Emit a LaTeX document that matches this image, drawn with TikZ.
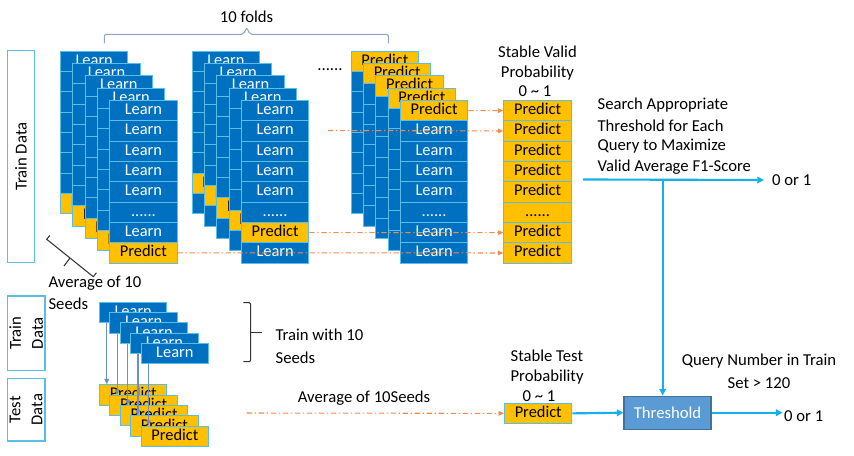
\documentclass[tikz,border=0pt]{standalone}
\usepackage{fontspec}
\setmainfont{Carlito}
\usetikzlibrary{arrows.meta}
\definecolor{cblue}{RGB}{0,112,192}
\definecolor{cyel}{RGB}{255,192,0}
\definecolor{cedge}{RGB}{91,190,230}
\definecolor{tfill}{RGB}{91,155,213}
\definecolor{tedge}{RGB}{65,113,156}
\definecolor{aqua}{RGB}{20,176,235}
\definecolor{dorange}{RGB}{240,140,80}
\definecolor{seedarr}{RGB}{110,140,210}
\definecolor{bracegray}{RGB}{140,165,200}
\newcommand\drawcard[4]{%
  \foreach \t [count=\i] in {#4} {
    \node (#1-\i) at ({#2},{#3+(\i-1)*20.33}) [\t];
  }}
\newcommand\drawstack[4]{%
  \foreach \k in {0,...,4} {
    \drawcard{#1\k}{#2+12.3*\k}{#3+12.3*\k}{#4}
  }}
\begin{document}
\begin{tikzpicture}[x=0.75pt,y=-0.75pt,
  rowbase/.style={draw=cedge, line width=0.75pt, minimum width=50.6pt, minimum height=15.25pt,
    inner sep=0pt, anchor=north west, font=\fontsize{12.3}{14}\selectfont, text height=8.6pt, text depth=2.6pt},
  lrow/.style={rowbase, fill=cblue, text=white, node contents={Learn}},
  prow/.style={rowbase, fill=cyel, text=black, node contents={Predict}},
  drow/.style={rowbase, fill=cblue, text=white, node contents={......}},
  ydrow/.style={rowbase, fill=cyel, text=black, node contents={......}},
  lab/.style={font=\fontsize{12.5}{15}\selectfont, inner sep=1pt},
  databox/.style={draw=cedge, line width=1pt, fill=white, rotate=90, align=center,
    font=\fontsize{12.5}{16.5}\selectfont, inner sep=0pt},
  aquaarrow/.style={draw=aqua, line width=1.6pt, -{Triangle[length=5pt,width=5pt]}},
  orarrow/.style={draw=dorange, line width=0.8pt, dash pattern=on 4pt off 2pt on 1pt off 2pt,
    -{Triangle[length=4pt,width=3.5pt]}},
  seedarrow/.style={draw=seedarr, line width=0.9pt, -{Triangle[length=4pt,width=3.5pt]}},
  bracket/.style={draw=black!80, line width=0.8pt}
]
\useasboundingbox (0,0) rectangle (854,456);

% data boxes
\node[databox, minimum width=159pt, minimum height=20.5pt] (trainbig) at (21,156.7) {Train Data};
\node[databox, minimum width=56pt, minimum height=28.3pt] (trainsmall) at (26.2,333.3) {Train\\Data};
\node[databox, minimum width=47pt, minimum height=28.3pt] (testsmall) at (26.2,409.7) {Test\\Data};

% fold stacks
\drawstack{sa}{60}{50.7}{lrow,lrow,lrow,lrow,lrow,drow,lrow,prow}
\drawstack{sb}{191.7}{50.7}{lrow,lrow,lrow,lrow,lrow,drow,prow,lrow}
\drawstack{sc}{350.7}{50.7}{prow,lrow,lrow,lrow,lrow,drow,lrow,lrow}
\node[lab, anchor=base] (gapdots) at (330,71) {......};

% stable valid column
\drawcard{sv}{503.3}{100}{prow,prow,prow,prow,prow,ydrow,prow,prow}
\node[lab] (svl1) at (537.5,51.7) {Stable Valid};
\node[lab] (svl2) at (537.5,73.3) {Probability};
\node[lab] (svl3) at (535,90.7) {0 \textasciitilde{} 1};

% orange arrows (valid)
\coordinate (oc2) at (328,130.5);
\draw[orarrow] (sc4-1.east) -- (sv-1.west);
\draw[orarrow] (oc2) -- (sv-2.west);
\draw[orarrow] (sb4-7.east) -- (sv-7.west);
\draw[orarrow] (sa4-8.east) -- (sv-8.west);

% 10 folds brace
\draw[draw=bracegray, line width=0.8pt, rounded corners=1.5pt] (104.3,43.3) -- (104.3,34.3) -- (243.5,34.3) -- (246.7,27.5) -- (249.9,34.3) -- (388.3,34.3) -- (388.3,43.3);
\node[lab] (folds) at (246.5,17) {10 folds};

% average bracket
\draw[bracket] (49.8,235.4) -- (46.7,239.3) -- (93.3,276.7) -- (96.4,272.8);
\draw[bracket] (70,258) -- (64,266);
\node[lab, anchor=west] (avg1) at (47,283.5) {Average of 10};
\node[lab, anchor=west] (avg2) at (47,304) {Seeds};

% seed stacks
\foreach \k in {0,...,4} {
  \node (ln\k) at ({99+10.4*\k},{302+10.2*\k}) [lrow];
}
\foreach \k in {0,...,4} {
  \node (pn\k) at ({99+10.4*\k},{384.3+10.35*\k}) [prow];
}
\foreach \k in {0,...,4} {
  \draw[seedarrow] ([xshift=5.8pt]ln\k.south west) -- ([xshift=5.8pt]pn\k.north west);
}

% train with 10 seeds bracket
\draw[bracket, rounded corners=1pt] (243.3,302.7) -- (250.7,302.7) -- (250.7,361.7) -- (243.3,361.7);
\draw[bracket] (250.7,332.7) -- (261.7,332.7);
\node[lab, anchor=west] (tw1) at (274,335) {Train with 10};
\node[lab, anchor=west] (tw2) at (274,357.5) {Seeds};

% test average
\node[lab] (avgseeds) at (364,398) {Average of 10Seeds};
\coordinate (oc5) at (246.7,413);
\node (st) at (504,402.7) [prow];
\draw[orarrow] (oc5) -- (st.west);
\node[lab, anchor=west] (stl1) at (509,356) {Stable Test};
\node[lab, anchor=west] (stl2) at (509,377.3) {Probability};
\node[lab] (stl3) at (539,395.7) {0 \textasciitilde{} 1};

% search text
\node[lab, anchor=west] (se1) at (596,105) {Search Appropriate};
\node[lab, anchor=west] (se2) at (596,125.5) {Threshold for Each};
\node[lab, anchor=west] (se3) at (596,146.5) {Query to Maximize};
\node[lab, anchor=west] (se4) at (596,167.5) {Valid Average F1-Score};

% threshold
\node[draw=tedge, fill=tfill, text=white, line width=0.8pt, minimum width=65.25pt, minimum height=25pt,
  font=\fontsize{12.5}{15}\selectfont] (th) at (667.5,412.7) {Threshold};
\node[lab] (qn1) at (759,361.3) {Query Number in Train};
\node[lab] (qn2) at (759,382.7) {Set > 120};

% blue arrows
\coordinate (hs) at (583,179.5);
\coordinate (j) at (662.7,179.5);
\node[lab] (o1) at (791.7,180) {0 or 1};
\draw[aquaarrow] (hs) -- ([xshift=-5pt]o1.west);
\draw[aquaarrow] (j) -- (j |- th.north);
\node[lab] (o2) at (803.7,416) {0 or 1};
\draw[aquaarrow] (st.east) -- (th.west);
\draw[aquaarrow] (th.east) -- (th.east -| o2.west);
\end{tikzpicture}
\end{document}
